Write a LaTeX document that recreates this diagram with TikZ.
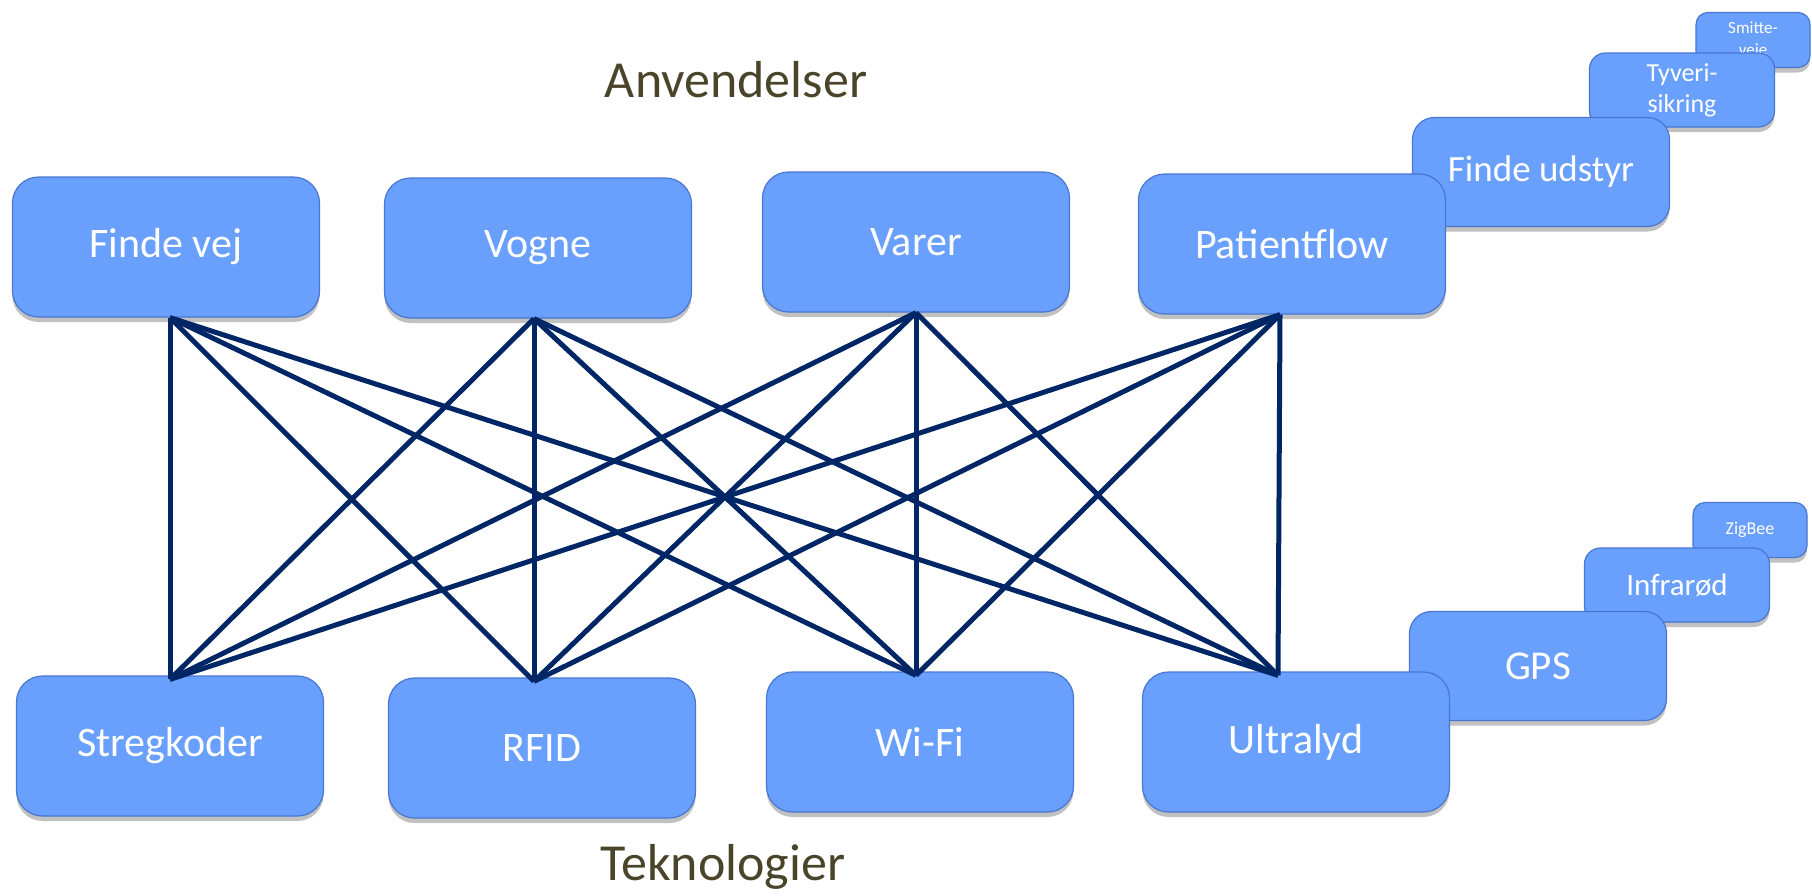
\documentclass[tikz,border=0pt]{standalone}
\usepackage{fontspec}
\setmainfont{Carlito}
\usepackage{tikz}
\usetikzlibrary{positioning, shadows}
\definecolor{boksblaa}{RGB}{106,160,253}
\definecolor{kantblaa}{RGB}{72,118,210}
\definecolor{linjeblaa}{RGB}{0,38,102}
\definecolor{overskrift}{RGB}{74,69,42}
\tikzstyle{boks} = [rectangle, fill=boksblaa, draw=kantblaa, line width=1.2pt, text=white, align=center, inner sep=2pt, drop shadow={shadow xshift=0pt, shadow yshift=-5pt, opacity=0.35, fill=black!70}]
\tikzstyle{stor} = [boks, minimum width=307pt, minimum height=140pt, rounded corners=26pt, font=\fontsize{42}{46}\selectfont]
\tikzstyle{mellem} = [boks, minimum width=257pt, minimum height=109pt, rounded corners=22pt]
\tikzstyle{lille} = [boks, minimum width=185pt, minimum height=74pt, rounded corners=16pt]
\tikzstyle{mini} = [boks, minimum width=114pt, minimum height=55pt, rounded corners=12pt]
\tikzstyle{forbindelse} = [draw=linjeblaa, line width=5pt]
\tikzstyle{overskrift} = [text=overskrift, font=\fontsize{52}{56}\selectfont, anchor=base]

\begin{document}
\begin{tikzpicture}[x=1pt, y=-1pt]
	\useasboundingbox (0,0) rectangle (1812,895);
	% overskrifter
	\node[overskrift] (anv) at (736,97) {Anvendelser};
	\node[overskrift] (tek) at (723,880) {Teknologier};
	% anvendelser, bagerste foerst
	\node[mini, font=\fontsize{17}{22}\selectfont] (smitte) at (1753,40) {Smitte-\\veje};
	\node[lille, font=\fontsize{26}{31}\selectfont] (tyveri) at (1682,90) {Tyveri-\\sikring};
	\node[mellem, font=\fontsize{37}{40}\selectfont] (udstyr) at (1541,172) {Finde udstyr};
	\node[stor] (fv) at (166,247) {Finde vej};
	\node[stor] (vo) at (538,248) {Vogne};
	\node[stor] (va) at (916,242) {Varer};
	\node[stor] (pf) at (1292,244) {Patientflow};
	% teknologier, bagerste foerst
	\node[mini, font=\fontsize{18}{20}\selectfont] (zigbee) at (1750,530) {ZigBee};
	\node[lille, font=\fontsize{31}{34}\selectfont] (infra) at (1677,585) {Infrarød};
	\node[mellem, font=\fontsize{41}{44}\selectfont] (gps) at (1538,666) {GPS};
	\node[stor] (sk) at (170,746) {Stregkoder};
	\node[stor] (rf) at (542,748) {RFID};
	\node[stor] (wf) at (920,742) {Wi-Fi};
	\node[stor] (ul) at (1296,742) {Ultralyd};
	% alle forbindelser
	\foreach \a/\ax in {fv/4,vo/-4,va/0,pf/-12}
		\foreach \b/\bx in {sk/0,rf/-8,wf/-4,ul/-18}
			\draw[forbindelse] ([xshift=\ax pt]\a.south) -- ([xshift=\bx pt, yshift=-4pt]\b.north);
\end{tikzpicture}
\end{document}
